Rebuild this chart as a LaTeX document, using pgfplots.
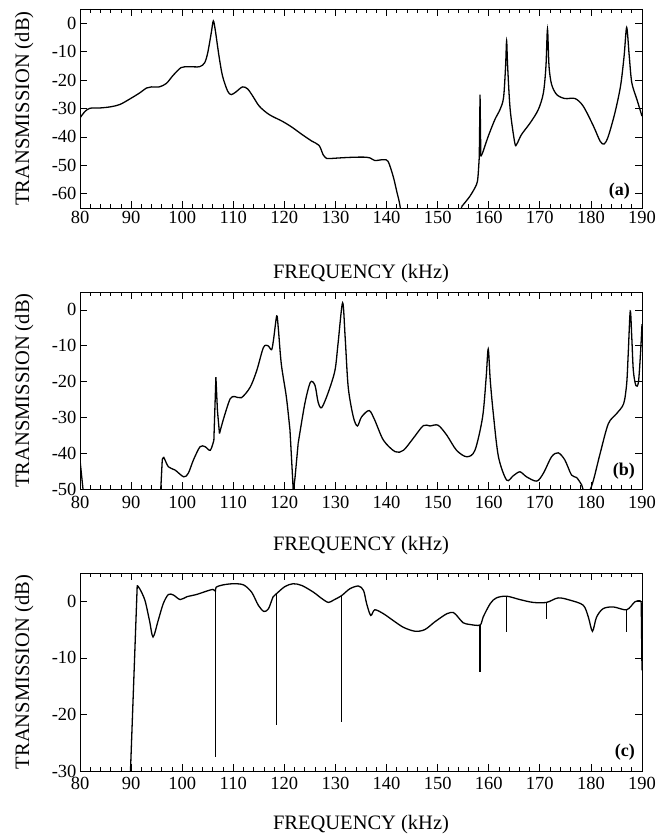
\documentclass[border=0pt]{standalone}
\usepackage{fontspec}
\setmainfont{Liberation Serif}
\usepackage{pgfplots}
\pgfplotsset{compat=1.18}
\pgfplotsset{
  panel/.style={
    scale only axis, width=562bp, anchor=south west,
    xmin=80, xmax=190, xtick={80,90,...,190}, minor x tick num=4,
    xticklabels={80,90,100,110,120,130,140,150,160,170,180,190},
    tick align=inside, major tick length=7bp, minor tick length=4bp,
    every tick/.style={black, line width=0.7bp},
    axis line style={line width=0.8bp},
    xticklabel style={font=\fontsize{18.5bp}{21bp}\selectfont},
    yticklabel style={font=\fontsize{18.5bp}{21bp}\selectfont},
    label style={font=\fontsize{20.5bp}{24bp}\selectfont},
    xlabel={FREQUENCY (kHz)}, ylabel={TRANSMISSION (dB)},
    ylabel style={at={(axis description cs:-0.0907,0.5)}, anchor=base},
    clip=true,
  },
  curve/.style={black, line width=1.3bp, no marks},
  scurve/.style={black, line width=1.3bp, no marks, smooth, tension=0.5},
}
\begin{document}
\begin{tikzpicture}
\useasboundingbox (0,0) rectangle (670bp,839bp);
% ---------------- (a)
\begin{axis}[panel, at={(80bp,631bp)}, height=199bp,
  ymin=-65, ymax=5, ytick={-60,-50,-40,-30,-20,-10,0},
  yticklabels={-60,-50,-40,-30,-20,-10,0},
  xlabel style={at={(axis description cs:0.5,-0.352)}, anchor=base}]
\addplot[scurve] coordinates {
(80,-33.3) (81,-31) (82,-29.9) (84,-29.8) (86,-29.4) (87.8,-28.6) (89.8,-26.6) (91.7,-24.5) (93,-22.8) (94,-22.4) (95.5,-22.4) (96.9,-21.2) (98.2,-18.4) (99.8,-15.6) (101.4,-15.3) (103.4,-15.3) (104.4,-13.9) (105,-10.4) (105.7,-3.3) (106.1,0.8) (106.5,-2.7) (107.2,-11.5) (107.9,-18.6) (108.9,-23.9) (109.6,-25.1) (110.5,-24.2) (111.8,-22.4) (112.8,-23.1) (113.8,-25.6) (115.1,-29.2) (117,-32.1) (119.6,-34.5) (121.5,-36.6) (123.5,-39.2) (125.4,-41.5) (126.8,-43.0) (127.6,-46.3) (128.3,-47.6) (129,-47.6) (130.7,-47.4) (132.8,-47.2) (135.5,-47.1) (136.8,-47.4) (137.7,-48.3) (139.4,-48) (140.3,-48.6) (141.3,-53.9) (142,-59.2) (142.6,-63.9) (143.2,-72)
};
\addplot[curve] coordinates {(143.2,-72) (154.2,-72) (154.7,-64.5)};
\addplot[scurve] coordinates {
(154.7,-64.5) (156.3,-60.9) (157.6,-56.8) (157.9,-53.9) (158.15,-47)
};
\addplot[curve] coordinates {(158.15,-47) (158.3,-25.1) (158.45,-46.8)};
\addplot[scurve] coordinates {
(158.45,-46.8) (158.8,-45.6) (159.9,-39.8) (161.2,-33.9) (162.2,-30.4) (162.9,-26.2) (163.3,-15.1) (163.5,-6.2) (163.7,-15.1) (164.2,-30.4) (165.1,-42.1) (165.5,-42.5) (166.4,-39.2) (168.1,-35.1) (169.7,-30.4) (170.7,-24.5) (171.2,-15.1) (171.5,-2.1) (171.8,-15.1) (172.3,-21.5) (173.3,-25.1) (174.9,-26.5) (176.9,-26.5) (178.5,-29.2) (180.5,-36.2) (181.8,-41.5) (182.6,-42.5) (183.4,-39.8) (184.7,-31.5) (185.8,-22.1) (186.5,-11.5) (187,-1.5) (187.5,-11.5) (188,-20.9) (189,-26.8) (190,-32.7)
};
\node[anchor=base east, inner sep=0pt, font=\fontsize{18bp}{20bp}\selectfont\bfseries] at (axis description cs:0.9786,0.065) {(a)};
\end{axis}
% ---------------- (b)
\begin{axis}[panel, at={(80bp,350bp)}, height=197bp,
  ymin=-50, ymax=5, ytick={-50,-40,-30,-20,-10,0},
  yticklabels={-50,-40,-30,-20,-10,0},
  xticklabel style={yshift=-4bp},
  xlabel style={at={(axis description cs:0.5,-0.310)}, anchor=base}]
\addplot[curve] coordinates {(80,-41.9) (80.8,-53) (95.7,-53) (96.1,-41.9)};
\addplot[scurve] coordinates {
(96.1,-41.9) (96.4,-41.2) (97.3,-43.8) (98.6,-44.7) (100.3,-46.6) (101.2,-45.6) (102.2,-41.9) (103.5,-38.2) (104.5,-38.2) (105.5,-39.2) (106.2,-36.4)
};
\addplot[curve] coordinates {(106.2,-36.4) (106.6,-18.8) (106.9,-28.1) (107.3,-34.5)};
\addplot[scurve] coordinates {
(107.3,-34.5) (108.2,-29.9) (109.4,-24.8) (110.3,-24.2) (111.6,-24.5) (113.3,-21.6) (114.6,-16.9) (115.9,-10.5) (116.8,-10) (117.5,-11.1) (117.9,-8.1) (118.5,-1.7) (118.8,-4.9) (119.4,-15.1) (120.4,-24.4) (121.1,-33.6)
};
\addplot[curve] coordinates {(121.1,-33.6) (121.6,-46.6) (121.75,-51) (122.1,-46.6) (122.7,-37.3)};
\addplot[scurve] coordinates {
(122.7,-37.3) (124,-26.2) (125.1,-20.2) (126,-21.1) (126.6,-25.7) (127.3,-27.3) (128.6,-23) (129.9,-16.9) (130.5,-9.5) (131.4,2) (131.9,-7.7) (132.5,-21.6) (133.5,-29.9) (134.3,-32.4) (135.1,-29.9) (136.6,-28.1) (137.7,-30.8) (139.4,-36.4) (141.7,-39.6) (143.3,-39.2) (145.2,-35.9) (147.2,-32.3) (148.5,-32.4) (150.1,-32.2) (151.8,-35) (153.7,-39.2) (155.7,-41) (157.3,-39.2) (158.8,-29.9) (159.5,-18.8) (159.9,-10.9) (160.3,-19.7) (160.9,-29) (161.9,-41) (163.5,-47.5) (164.8,-46.3) (166.1,-45.2) (167.4,-46.6) (169.4,-47.8) (170.7,-45.6) (172.3,-41) (173.6,-39.9) (174.9,-41.9) (176.2,-46.1) (177.2,-46.8) (178.2,-48.9) (178.6,-50.5) (179.7,-50.5) (180.5,-47.5) (181.8,-40.1) (183.4,-31.8) (185,-29) (186.4,-26.2) (187,-20.6) (187.3,-12.3) (187.7,-0.3) (188,-7.7) (188.3,-16.9) (188.8,-21.1) (189.3,-20.2) (189.7,-12.3) (190,-4)
};
\node[anchor=base east, inner sep=0pt, font=\fontsize{18bp}{20bp}\selectfont\bfseries] at (axis description cs:0.9875,0.071) {(b)};
\end{axis}
% ---------------- (c)
\begin{axis}[panel, at={(80bp,68bp)}, height=198bp,
  ymin=-30, ymax=5, ytick={-30,-20,-10,0},
  yticklabels={-30,-20,-10,0},
  xticklabel style={yshift=-3bp},
  xlabel style={at={(axis description cs:0.5,-0.293)}, anchor=base}]
\addplot[curve] coordinates {(89.8,-32) (91.2,2.8)};
\addplot[scurve] coordinates {
(91.2,2.8) (91.7,2.2) (92.7,0.2) (93.6,-3.4) (94.3,-6.3) (95.3,-3.4) (96.3,-0.4) (97.3,1.2) (98.3,1.1) (99.6,0.3) (100.9,0.8) (102.8,1.2) (104.8,1.8) (106,2.1) (106.5,1.8) (106.65,2.5) (108,2.9) (110,3.1) (112,2.9) (113.6,1.6) (114.9,-0.7) (116,-1.8) (116.9,-1.3) (117.8,0.8) (118.4,1.3) (120.1,2.6) (121.7,3.1) (123.4,2.8) (125.7,1.6) (127.3,0.5) (128.6,-0.2) (129.6,0.2) (131.2,1.0) (132.8,2.2) (134.5,2.7) (135.5,1.9) (136.1,-0.4) (136.9,-2.5) (137.7,-1.5) (139.4,-2.2) (141.3,-3.4) (143.3,-4.6) (145.6,-5.3) (147.5,-5.0) (149.5,-3.6) (151.8,-2.2) (153.1,-2.0) (154,-2.8) (155,-3.8) (156.3,-4.1) (158.3,-4.2) (158.9,-2.8) (160.3,-0.4) (161.5,0.6) (163.5,0.9) (166.1,0.3) (168.7,-0.2) (171.3,-0.2) (173.6,0.6) (175.9,0.2) (178.5,-0.7) (179.5,-2.8) (180.3,-5.3) (181.1,-2.8) (182.4,-1.3) (184.4,-1) (187,-1.5) (188.6,-0.1) (189.6,0.1) (189.85,-0.2)
};
\addplot[curve] coordinates {(189.85,-0.2) (190,-12.2)};
\addplot[curve] coordinates {(106.57,1.9) (106.57,-27.5)};
\addplot[curve] coordinates {(118.4,1.3) (118.4,-21.9)};
\addplot[curve] coordinates {(131.2,1.0) (131.2,-21.3)};
\addplot[curve] coordinates {(158.3,-4.2) (158.3,-12.5)};
\addplot[curve] coordinates {(163.5,0.9) (163.5,-5.4)};
\addplot[curve] coordinates {(171.3,-0.2) (171.3,-3.2)};
\addplot[curve] coordinates {(187,-1.5) (187,-5.4)};
\node[anchor=base east, inner sep=0pt, font=\fontsize{18bp}{20bp}\selectfont\bfseries] at (axis description cs:0.9875,0.071) {(c)};
\end{axis}
\end{tikzpicture}
\end{document}
